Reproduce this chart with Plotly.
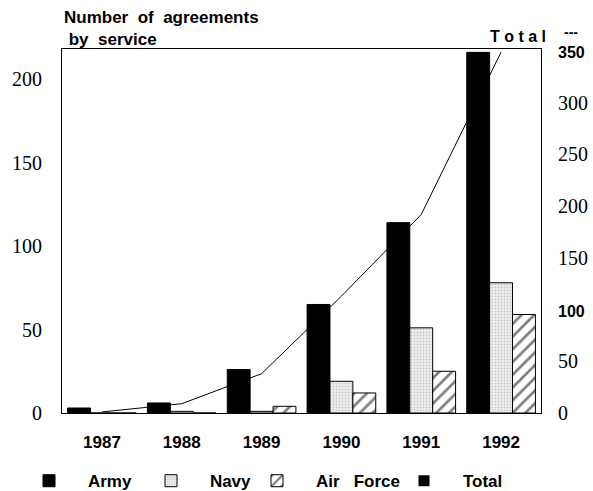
import plotly.graph_objects as go

# agreements by service
years = ['1987', '1988', '1989', '1990', '1991', '1992']
army = [3, 6, 26, 65, 114, 216]
navy = [0, 1, 1, 19, 51, 78]
air_force = [0, 0, 4, 12, 25, 59]
total = [1, 9, 38, 113, 192, 349]

left_ticks = [0, 50, 100, 150, 200]
right_ticks = [0, 50, 100, 150, 200, 250, 300, 350]

serif = 'Liberation Serif'
sans = 'Liberation Sans'
pad = '\u00a0' * 4  # pushes legend text away from its symbol

fig = go.Figure()

# total line sits on the base axis so the bars (overlay axis) are drawn over it
fig.add_trace(go.Scatter(x=years, y=total, name='Total', mode='lines',
                         line=dict(color='black', width=1), yaxis='y', showlegend=False))

fig.add_trace(go.Bar(x=years, y=army, name=pad + 'Army', yaxis='y2', legend='legend',
                     marker=dict(color='black', line=dict(color='black', width=1))))
fig.add_trace(go.Bar(x=years, y=navy, name=pad + 'Navy', yaxis='y2', legend='legend2',
                     marker=dict(color='#eeeeee', line=dict(color='black', width=1),
                                 pattern=dict(shape='.', fgcolor='#a0a0a0', bgcolor='#f0f0f0',
                                              size=3, solidity=0.3))))
fig.add_trace(go.Bar(x=years, y=air_force, name=pad + 'Air\u00a0\u00a0\u00a0Force', yaxis='y2',
                     legend='legend3',
                     marker=dict(color='white', line=dict(color='black', width=1),
                                 pattern=dict(shape='/', fgcolor='black', bgcolor='white',
                                              size=9, solidity=0.3))))
# legend entry for the total
fig.add_trace(go.Scatter(x=[None], y=[None], name=pad + 'Total', mode='markers', yaxis='y',
                         legend='legend4',
                         marker=dict(color='black', symbol='square', size=11)))

right_text = []
for v in right_ticks:
    if v in (100, 350):
        right_text.append('<span style="font-family:Liberation Sans;font-weight:bold;font-size:16px">%d</span>' % v)
    else:
        right_text.append(str(v))


def legend_at(px):
    return dict(orientation='h', xref='container', yref='container',
                x=px / 593, y=0.02, xanchor='left', yanchor='middle',
                font=dict(family=sans, size=17, color='black', weight='bold'))


fig.update_layout(
    width=593, height=491,
    margin=dict(l=62, r=52, t=49, b=78, autoexpand=False),
    paper_bgcolor='white', plot_bgcolor='white',
    barmode='group', bargap=0.14, bargroupgap=0,
    font=dict(family=sans, color='black'),
    xaxis=dict(showline=True, linecolor='black', linewidth=1, mirror=True,
               ticks='', tickfont=dict(family=sans, size=17, color='black', weight='bold'),
               ticklabelstandoff=14, showgrid=False, automargin=False),
    yaxis=dict(side='right', range=[0, 352], tickvals=right_ticks, ticktext=right_text,
               showline=True, linecolor='black', linewidth=1, ticks='',
               tickfont=dict(family=serif, size=20, color='black'),
               ticklabelstandoff=12, showgrid=False, zeroline=False, automargin=False),
    yaxis2=dict(overlaying='y', side='left', range=[0, 218], tickvals=left_ticks,
                showline=True, linecolor='black', linewidth=1, ticks='',
                tickfont=dict(family=serif, size=20, color='black'),
                ticklabelstandoff=15, showgrid=False, zeroline=False, automargin=False),
    legend=legend_at(29),
    legend2=legend_at(151),
    legend3=legend_at(257),
    legend4=legend_at(404),
    annotations=[
        dict(text='<b>Number  of  agreements<br> by  service</b>', xref='paper', yref='paper',
             x=0, y=1, xanchor='left', yanchor='bottom', align='left', showarrow=False,
             font=dict(family=sans, size=17, color='black'), yshift=-2),
        dict(text='<b>T o t a l</b>', xref='paper', yref='paper', x=1, y=1,
             xanchor='right', yanchor='bottom', showarrow=False, xshift=7, yshift=2,
             font=dict(family=sans, size=16, color='black')),
        dict(text='<b>---</b>', xref='paper', yref='paper', x=1, y=1,
             xanchor='left', yanchor='bottom', showarrow=False, xshift=21, yshift=7,
             font=dict(family=sans, size=14, color='black')),
    ],
)

# drop the default page margin so the figure sits at the window's corner
fig.write_html('out.html', config={'displayModeBar': False},
               post_script="document.body.style.margin='0';")
